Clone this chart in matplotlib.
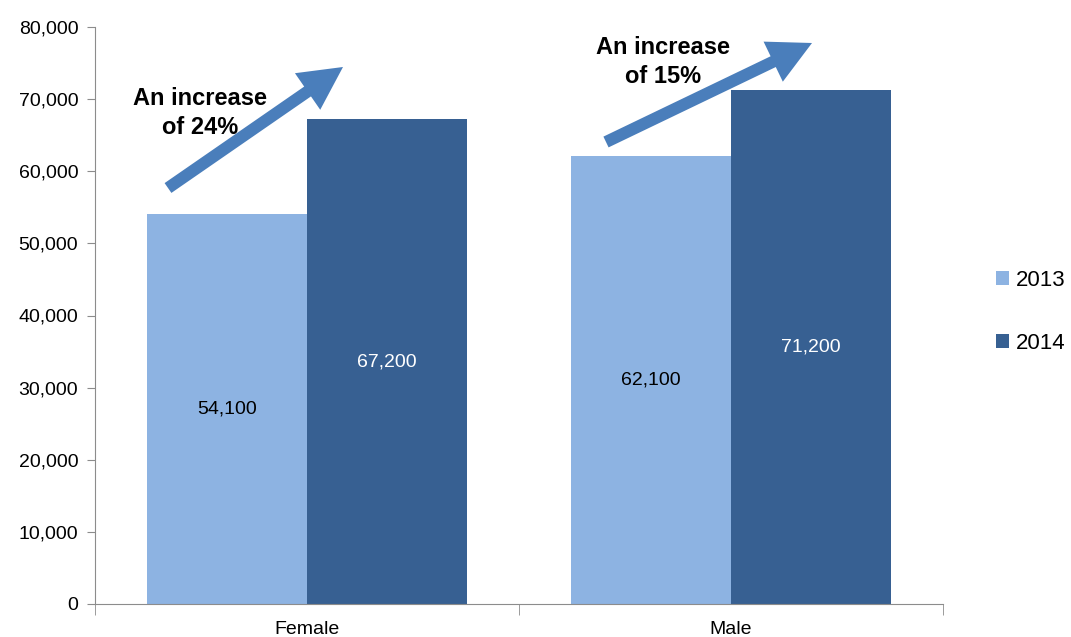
import matplotlib
matplotlib.use("Agg")
import matplotlib.pyplot as plt
import numpy as np

plt.rcParams['font.family'] = ['Liberation Sans', 'DejaVu Sans']

categories = ['Female', 'Male']
years = ['2013', '2014']
values_2013 = [54100, 62100]
values_2014 = [67200, 71200]
increase_notes = ['An increase\nof 24%', 'An increase\nof 15%']

light = '#8DB3E2'
dark = '#376092'
arrow_col = '#4A7EBB'
axis_col = '#8C8C8C'

W, H = 1071, 637
fig = plt.figure(figsize=(W / 100, H / 100), dpi=100)
ax = fig.add_axes([95 / W, 1 - 604 / H, (943 - 95) / W, (604 - 27) / H])

x = np.arange(len(categories))
bw = 0.377
b1 = ax.bar(x - bw / 2, values_2013, bw, color=light, label=years[0])
b2 = ax.bar(x + bw / 2, values_2014, bw, color=dark, label=years[1])

for bars, col in ((b1, 'black'), (b2, 'white')):
    for r in bars:
        v = r.get_height()
        ax.text(r.get_x() + r.get_width() / 2, v / 2, f'{v:,.0f}',
                ha='center', va='center', fontsize=14, color=col)

ax.set_xlim(-0.5, len(categories) - 0.5)
ax.set_ylim(0, 80000)
ax.set_yticks(np.arange(0, 80001, 10000))
ax.yaxis.set_major_formatter(matplotlib.ticker.FuncFormatter(lambda v, p: f'{v:,.0f}'))
ax.set_xticks(x)
ax.set_xticklabels(categories)
ax.set_xticks(np.arange(-0.5, len(categories), 1.0), minor=True)
ax.tick_params(axis='x', which='major', length=0, pad=12, labelsize=14)
ax.tick_params(axis='x', which='minor', length=8, color=axis_col, direction='out')
ax.tick_params(axis='y', length=6, color=axis_col, labelsize=14, pad=6)

for s in ('top', 'right'):
    ax.spines[s].set_visible(False)
for s in ('left', 'bottom'):
    ax.spines[s].set_color(axis_col)

# growth arrows, placed in figure pixels (origin top-left)
def px(xp, yp):
    return (xp, H - yp)

arrows = [((168, 188), (343, 67)), ((606, 142), (812, 43))]
note_pos = [(200, 113), (663, 62)]
for (start, end), note, pos in zip(arrows, increase_notes, note_pos):
    ax.annotate('', xy=px(*end), xytext=px(*start),
                xycoords='figure pixels', textcoords='figure pixels',
                arrowprops=dict(arrowstyle='simple,head_length=31,head_width=32,tail_width=8.6',
                                mutation_scale=1, color=arrow_col, lw=0,
                                shrinkA=0, shrinkB=0))
    fig.text(pos[0] / W, 1 - pos[1] / H, note, ha='center', va='center',
             fontsize=17, fontweight='bold', linespacing=1.3)

fig.legend(handles=[b1, b2], labels=years, loc='center left',
           bbox_to_anchor=(996 / W, 1 - 312 / H), frameon=False,
           borderpad=0, borderaxespad=0,
           fontsize=16, handlelength=0.6, handleheight=0.6,
           handletextpad=0.3, labelspacing=1.9)

fig.savefig('out.png', dpi=100)
